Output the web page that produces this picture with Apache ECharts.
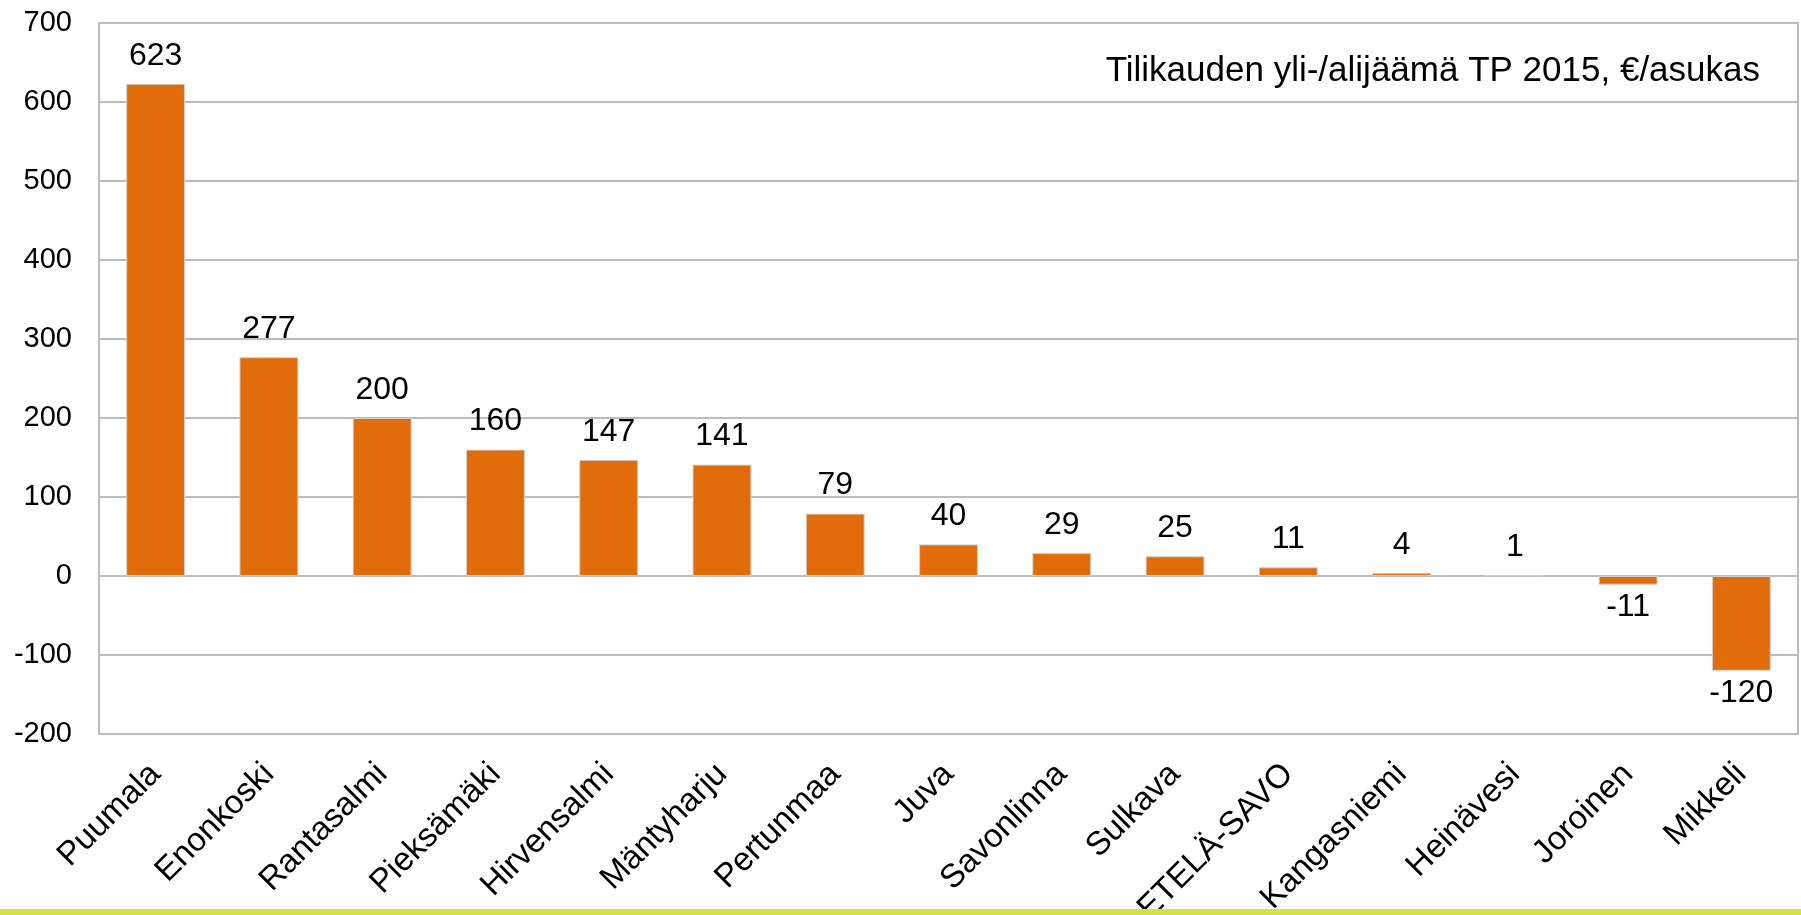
<!DOCTYPE html>
<html>
<head>
<meta charset="utf-8">
<script src="https://cdn.jsdelivr.net/npm/echarts@6/dist/echarts.min.js"></script>
<style>
  html, body { margin: 0; padding: 0; background: #fff; }
  #chart { width: 1801px; height: 915px; }
</style>
</head>
<body>
<div id="chart"></div>
<script>
// kunnat ja arvot
var kunnat = ['Puumala', 'Enonkoski', 'Rantasalmi', 'Pieksämäki', 'Hirvensalmi', 'Mäntyharju',
  'Pertunmaa', 'Juva', 'Savonlinna', 'Sulkava', 'ETELÄ-SAVO', 'Kangasniemi', 'Heinävesi',
  'Joroinen', 'Mikkeli'];
var arvot = [623, 277, 200, 160, 147, 141, 79, 40, 29, 25, 11, 4, 1, -11, -120];
var otsikko = 'Tilikauden yli-/alijäämä TP 2015, €/asukas';
var yMin = -200, yMax = 700, yStep = 100;

var font = 'Liberation Sans, Arial, sans-serif';

var chart = echarts.init(document.getElementById('chart'));
chart.setOption({
  backgroundColor: '#fff',
  animation: false,
  title: {
    text: otsikko,
    right: 41,
    top: 54,
    padding: 0,
    textStyle: { fontFamily: font, fontSize: 35, fontWeight: 'normal', color: '#000' }
  },
  grid: {
    left: 99, right: 3, top: 23, bottom: 181,
    containLabel: false,
    outerBoundsMode: 'none',
    show: true, borderColor: '#bcbcbc', borderWidth: 2
  },
  xAxis: {
    type: 'category',
    data: kunnat,
    axisTick: { show: false },
    axisLine: { onZero: false, lineStyle: { color: '#bcbcbc', width: 2 } },
    axisLabel: {
      interval: 0,
      rotate: 45,
      margin: 35,
      fontFamily: font,
      fontSize: 33,
      color: '#000'
    }
  },
  yAxis: {
    type: 'value',
    min: yMin, max: yMax, interval: yStep,
    axisLine: { show: true, lineStyle: { color: '#bcbcbc', width: 2 } },
    axisTick: { show: false },
    splitLine: { lineStyle: { color: '#bcbcbc', width: 2 } },
    axisLabel: { fontFamily: font, fontSize: 29, color: '#000', margin: 27 }
  },
  series: [{
    type: 'bar',
    data: arvot.map(function (v) {
      return {
        value: v,
        label: v < 0 ? { position: 'bottom', distance: 6 } : { position: 'top', distance: 12 }
      };
    }),
    barWidth: '52%',
    itemStyle: { color: '#E36C0A', borderColor: '#d0d0d0', borderWidth: 1 },
    label: {
      show: true,
      fontFamily: font,
      fontSize: 32,
      color: '#000'
    }
  }],
  graphic: [{
    type: 'rect',
    left: 0,
    top: 909,
    z: 100,
    shape: { width: 1801, height: 6 },
    style: { fill: '#d5e04b' },
    silent: true
  }]
});
</script>
</body>
</html>
